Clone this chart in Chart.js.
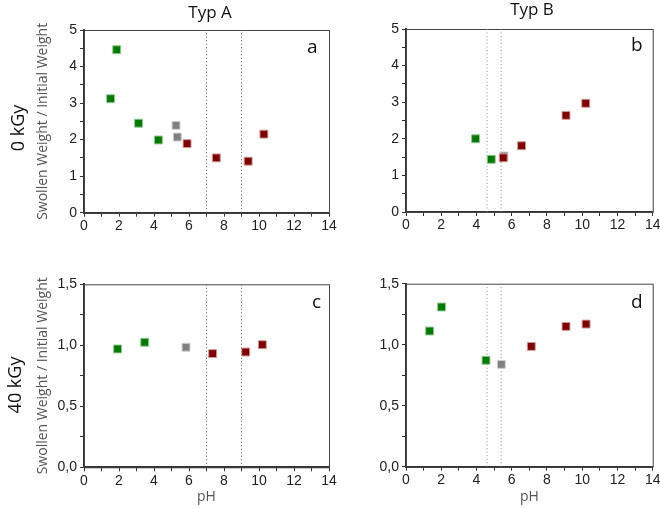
<!DOCTYPE html>
<html>
<head>
<meta charset="utf-8">
<script src="https://cdn.jsdelivr.net/npm/chart.js@4.4.1/dist/chart.umd.min.js"></script>
<style>
  body { margin: 0; background: #fff; }
  #wrap { position: relative; width: 660px; height: 508px; background: #fff; overflow: hidden; font-family: "Open Sans", sans-serif; color: #111; }
  canvas { position: absolute; }
  .lbl { position: absolute; white-space: nowrap; line-height: 1; }
  .col { font-size: 17px; transform: translateX(-50%); }
  .row { font-size: 18px; transform: translate(-50%, -50%) rotate(-90deg); }
  .letter { font-size: 19px; }
</style>
</head>
<body>
<div id="wrap">
  <canvas id="chartA" width="345" height="250" style="left:0;top:0"></canvas>
  <canvas id="chartB" width="330" height="250" style="left:330px;top:0"></canvas>
  <canvas id="chartC" width="345" height="258" style="left:0;top:250px"></canvas>
  <canvas id="chartD" width="330" height="258" style="left:330px;top:250px"></canvas>

  <div class="lbl col" style="left:210px;top:3px">Typ A</div>
  <div class="lbl col" style="left:532px;top:0px">Typ B</div>
  <div class="lbl row" style="left:17px;top:128px">0 kGy</div>
  <div class="lbl row" style="left:14px;top:385px">40 kGy</div>
  <div class="lbl letter" style="left:307px;top:37px">a</div>
  <div class="lbl letter" style="left:631px;top:35px">b</div>
  <div class="lbl letter" style="left:312px;top:292px">c</div>
  <div class="lbl letter" style="left:631px;top:292px">d</div>
</div>
<script>
// 0 kGy, Typ A
var a_green_x = [1.52, 1.87, 3.12, 4.25];
var a_green_y = [3.12, 4.46, 2.45, 1.99];
var a_grey_x = [5.26, 5.33];
var a_grey_y = [2.39, 2.07];
var a_red_x = [5.89, 7.56, 9.38, 10.28];
var a_red_y = [1.89, 1.50, 1.41, 2.15];
var a_lines = [7, 9];

// 0 kGy, Typ B
var b_green_x = [3.95, 4.84];
var b_green_y = [2.00, 1.44];
var b_grey_x = [5.56];
var b_grey_y = [1.53];
var b_red_x = [5.52, 6.56, 9.08, 10.2];
var b_red_y = [1.48, 1.81, 2.64, 2.97];
var b_lines = [4.6, 5.4];

// 40 kGy, Typ A
var c_green_x = [1.92, 3.47];
var c_green_y = [0.97, 1.025];
var c_grey_x = [5.83];
var c_grey_y = [0.984];
var c_red_x = [7.35, 9.24, 10.19];
var c_red_y = [0.932, 0.945, 1.005];
var c_lines = [7, 9];

// 40 kGy, Typ B
var d_green_x = [1.34, 2.02, 4.54];
var d_green_y = [1.112, 1.309, 0.872];
var d_grey_x = [5.41];
var d_grey_y = [0.839];
var d_red_x = [7.11, 9.08, 10.22];
var d_red_y = [0.986, 1.15, 1.169];
var d_lines = [4.6, 5.4];

var xTicksMajor = [0, 2, 4, 6, 8, 10, 12, 14];
var yTicksTop = [0, 1, 2, 3, 4, 5];
var yTicksBottom = [0, 0.5, 1.0, 1.5];

function pts(xs, ys) {
    return xs.map(function(x, i) { return {x: x, y: ys[i]}; });
}

function marks(color, border, data) {
    return {
        data: data,
        pointStyle: 'rect',
        pointRadius: 5.6,
        pointHoverRadius: 5.6,
        backgroundColor: color,
        borderColor: border,
        borderWidth: 1,
        showLine: false
    };
}

function vline(x, ymax, color) {
    return {
        data: [{x: x, y: 0}, {x: x, y: ymax}],
        showLine: true,
        pointRadius: 0,
        borderColor: color,
        borderWidth: 1,
        borderDash: [1, 2.5]
    };
}

var frame = {
    id: 'frame',
    beforeDatasetsDraw: function(chart) {
        var c = chart.chartArea, ctx = chart.ctx;
        ctx.save();
        ctx.strokeStyle = '#444';
        ctx.lineWidth = 1;
        ctx.strokeRect(c.left + 0.5, c.top + 0.5, c.right - c.left, c.bottom - c.top);
        ctx.restore();
    }
};

function makePanel(id, opt) {
    var ds = [
        marks('#800000', '#c99a9a', pts(opt.red[0], opt.red[1])),
        marks('#007a00', '#94c794', pts(opt.green[0], opt.green[1])),
        marks('#808080', '#cfcfcf', pts(opt.grey[0], opt.grey[1]))
    ];
    opt.lines.forEach(function(x) { ds.push(vline(x, opt.ymax, opt.lineColor)); });

    new Chart(document.getElementById(id), {
        type: 'scatter',
        data: { datasets: ds },
        options: {
            responsive: false,
            animation: false,
            layout: { padding: opt.pad },
            plugins: { legend: { display: false }, tooltip: { enabled: false } },
            scales: {
                x: {
                    min: 0, max: 14,
                    ticks: {
                        stepSize: 1, autoSkip: false, maxRotation: 0, padding: 1,
                        color: '#222', font: { family: 'Liberation Sans', size: 14 },
                        callback: function(v) { return xTicksMajor.indexOf(v) >= 0 ? v : ''; }
                    },
                    grid: { drawOnChartArea: false, tickLength: 4, tickColor: '#333', lineWidth: 1 },
                    border: { color: '#333', width: 2 },
                    title: opt.xTitle ? { display: true, text: 'pH', color: '#555', font: { family: 'Open Sans', size: 14 }, padding: { top: 0, bottom: 3 } } : { display: false },
                    afterFit: function(s) { s.height = opt.xh; s.paddingLeft = 0; s.paddingRight = 0; }
                },
                y: {
                    min: 0, max: opt.ymax,
                    ticks: {
                        stepSize: opt.ystep, autoSkip: false, padding: 3,
                        color: '#222', font: { family: 'Liberation Sans', size: 14 },
                        callback: function(v) {
                            if (opt.yTicks.indexOf(v) < 0) return '';
                            return opt.decimals ? v.toFixed(1).replace('.', ',') : String(v);
                        }
                    },
                    grid: { drawOnChartArea: false, tickLength: 4, tickColor: '#333', lineWidth: 1 },
                    border: { color: '#333', width: 2 },
                    title: opt.yTitle ? { display: true, text: 'Swollen Weight / Initial Weight', color: '#555', font: { family: 'Open Sans', size: 14 }, padding: { top: 35, bottom: 0 } } : { display: false },
                    afterFit: function(s) { s.width = opt.yw; s.paddingTop = 0; s.paddingBottom = 0; }
                }
            }
        },
        plugins: [frame]
    });
}

makePanel('chartA', {
    red: [a_red_x, a_red_y], green: [a_green_x, a_green_y], grey: [a_grey_x, a_grey_y],
    lines: a_lines, lineColor: '#555', ymax: 5, ystep: 0.5, yTicks: yTicksTop, decimals: false,
    pad: { left: 0, top: 30, right: 16, bottom: 0 }, yw: 84, xh: 37.3, yTitle: true, xTitle: false
});
makePanel('chartB', {
    red: [b_red_x, b_red_y], green: [b_green_x, b_green_y], grey: [b_grey_x, b_grey_y],
    lines: b_lines, lineColor: '#888', ymax: 5, ystep: 0.5, yTicks: yTicksTop, decimals: false,
    pad: { left: 0, top: 29, right: 7.3, bottom: 0 }, yw: 76, xh: 38, yTitle: false, xTitle: false
});
makePanel('chartC', {
    red: [c_red_x, c_red_y], green: [c_green_x, c_green_y], grey: [c_grey_x, c_grey_y],
    lines: c_lines, lineColor: '#555', ymax: 1.5, ystep: 0.25, yTicks: yTicksBottom, decimals: true,
    pad: { left: 0, top: 34.3, right: 16, bottom: 0 }, yw: 84, xh: 40.7, yTitle: true, xTitle: true
});
makePanel('chartD', {
    red: [d_red_x, d_red_y], green: [d_green_x, d_green_y], grey: [d_grey_x, d_grey_y],
    lines: d_lines, lineColor: '#888', ymax: 1.5, ystep: 0.25, yTicks: yTicksBottom, decimals: true,
    pad: { left: 0, top: 33.7, right: 7.3, bottom: 0 }, yw: 76, xh: 41.3, yTitle: false, xTitle: true
});
</script>
</body>
</html>
